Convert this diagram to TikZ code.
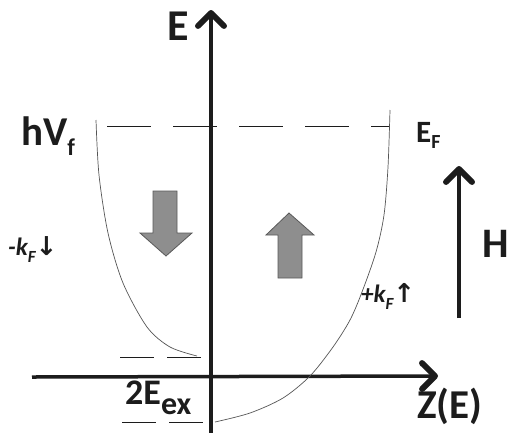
\documentclass[tikz,border=0pt]{standalone}
\usepackage{fontspec}
\setmainfont{Carlito}
\newfontfamily\arrowfont{DejaVu Sans}
\usetikzlibrary{arrows.meta}
\definecolor{inkgray}{RGB}{28,28,28}
\definecolor{spingray}{RGB}{142,142,142}
\definecolor{bandgray}{RGB}{85,85,85}

% lowered subscript in its own size
\newcommand{\lowsub}[3]{\raisebox{-#2}{\fontsize{#1}{#1}\selectfont #3}}

\tikzset{
  axis/.style={line width=3.5pt, inkgray, -{Straight Barb[length=13pt,width=26pt,line width=0pt 1.7,round]}},
  band/.style={line width=0.7pt, bandgray},
  level/.style={line width=1pt, inkgray, dash pattern=on 44pt off 22pt},
  lowlevel/.style={line width=1pt, inkgray, dash pattern=on 34pt off 13pt},
  spin/.style={fill=spingray, draw=black!65, line width=0.8pt},
  lbl/.style={text=inkgray, inner sep=0pt, anchor=base west, font=\bfseries}
}

\begin{document}
\begin{tikzpicture}[x=1pt,y=-1pt]
  \useasboundingbox (0,0) rectangle (508,432);

  % axes
  \coordinate (ebot) at (211,434);
  \coordinate (etop) at (211,10);
  \coordinate (zleft) at (32,377);
  \coordinate (zright) at (438,376);
  \draw[axis] (ebot) -- (etop);
  \draw[axis] (zleft) -- (zright);

  % levels
  \coordinate (fl) at (107,126);
  \coordinate (fr) at (390,126);
  \draw[level] (fl) -- (fr);
  \coordinate (ul) at (120,357);
  \coordinate (ur) at (201,357);
  \draw[lowlevel] (ul) -- (ur);
  \coordinate (dl) at (122,422);
  \coordinate (dr) at (203,422);
  \draw[lowlevel] (dl) -- (dr);

  % spin bands
  \draw[band] plot[smooth] coordinates {(96,120) (99,175) (108,233) (123,283) (147,327) (170,347) (197,356)};
  \draw[band] plot[smooth] coordinates {(215,422) (250,413) (283,398) (310,376) (333,347) (350,320) (362,292) (376,252) (384,215) (388,167) (390,110)};

  % spin arrows
  \draw[spin] (153,191) -- (177,191) -- (177,233) -- (192,233) -- (166,256) -- (140,233) -- (153,233) -- cycle;
  \draw[spin] (278,278) -- (302,278) -- (302,235) -- (314,235) -- (289,213) -- (266,235) -- (278,235) -- cycle;

  % field
  \coordinate (hbot) at (459,318);
  \coordinate (htop) at (459,166);
  \draw[axis] (hbot) -- (htop);

  % labels
  \node[lbl, font=\bfseries\fontsize{44}{44}\selectfont] (elbl) at (167,40) {E};
  \node[lbl, font=\bfseries\fontsize{41}{41}\selectfont] (zlbl) at (417,418) {Z(E)};
  \node[lbl, font=\bfseries\fontsize{42}{42}\selectfont] (hlbl) at (482,257) {H};
  \node[lbl, font=\bfseries\fontsize{41}{41}\selectfont] (hvlbl) at (21,145) {hV\lowsub{24}{10pt}{f}};
  \node[lbl, font=\bfseries\fontsize{31}{31}\selectfont] (eflbl) at (416,142) {E\lowsub{20}{6pt}{F}};
  \node[lbl, font=\bfseries\fontsize{36}{36}\selectfont] (exlbl) at (125,404) {2E\lowsub{32}{10pt}{ex}};
  \node[lbl, font=\bfseries\itshape\fontsize{25}{25}\selectfont] (kdown) at (8,255) {-k\lowsub{17}{7pt}{F}{\upshape\arrowfont\bfseries\fontsize{26}{26}\selectfont ↓}};
  \node[lbl, font=\bfseries\itshape\fontsize{25}{25}\selectfont] (kup) at (361,302) {+k\lowsub{17}{7pt}{F}{\upshape\arrowfont\bfseries\fontsize{26}{26}\selectfont ↑}};
\end{tikzpicture}
\end{document}
